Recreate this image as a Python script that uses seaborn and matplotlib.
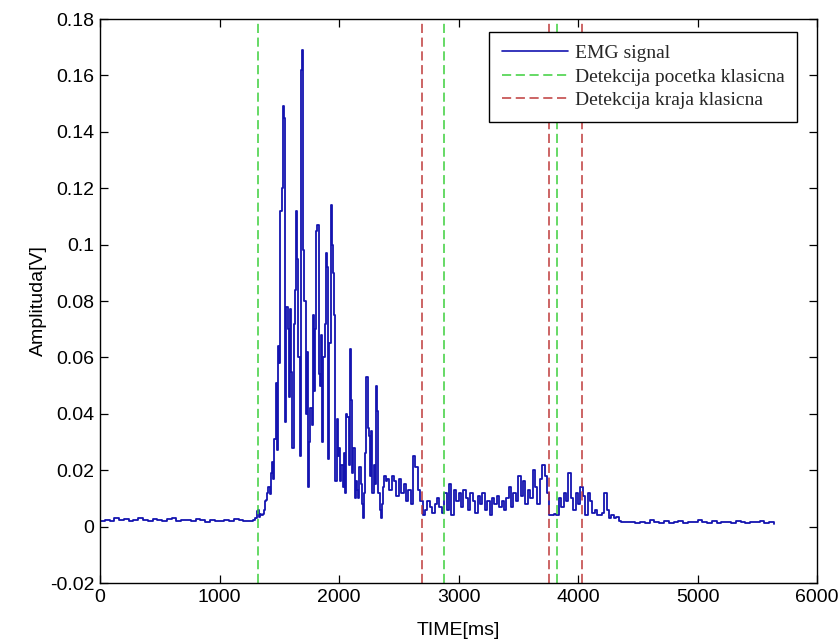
import numpy as np
import pandas as pd
import matplotlib
matplotlib.use("Agg")
import matplotlib.pyplot as plt
import seaborn as sns
from matplotlib.lines import Line2D
from matplotlib.ticker import FuncFormatter

# ---------------- data ----------------
# baseline before activity (40 ms step)
base1_start, base1_step = 0, 40
base1_vals = [0.002, 0.0025, 0.002, 0.003, 0.0022, 0.0028, 0.002, 0.0025, 0.003, 0.0022,
              0.002, 0.0028, 0.0024, 0.002, 0.0026, 0.003, 0.0021, 0.0025, 0.0023, 0.002,
              0.0027, 0.0022, 0.0018, 0.0025, 0.0021, 0.0019, 0.0024, 0.002, 0.0026, 0.0022,
              0.002, 0.0019, 0.0024]

# main burst (10 ms step)
burst_start, burst_step = 1300, 10
burst_vals = [0.003, 0.0055, 0.006, 0.0035, 0.0045, 0.004, 0.0045, 0.006, 0.009, 0.0095,
              0.012, 0.014, 0.0115, 0.019, 0.023, 0.017, 0.031, 0.051, 0.027, 0.064,
              0.058, 0.112, 0.120, 0.149, 0.145, 0.037, 0.078, 0.070, 0.046, 0.077,
              0.055, 0.028, 0.072, 0.084, 0.112, 0.095, 0.060, 0.025, 0.162, 0.169,
              0.098, 0.080, 0.040, 0.062, 0.014, 0.030, 0.042, 0.036, 0.075, 0.048,
              0.070, 0.105, 0.107, 0.054, 0.050, 0.068, 0.030, 0.060, 0.072, 0.097,
              0.092, 0.024, 0.065, 0.114, 0.100, 0.090, 0.075, 0.016, 0.038, 0.025,
              0.028, 0.016, 0.022, 0.014, 0.026, 0.012, 0.040, 0.039, 0.022, 0.063,
              0.045, 0.019, 0.028, 0.010, 0.016, 0.013, 0.010, 0.021, 0.015, 0.008,
              0.003, 0.012, 0.026, 0.053, 0.035, 0.032, 0.018, 0.034, 0.012, 0.022,
              0.015, 0.050, 0.041, 0.012, 0.006, 0.003, 0.008, 0.014, 0.018, 0.016]

# tail activity (20 ms step)
tail_start, tail_step = 2400, 20
tail_vals = [0.017, 0.013, 0.018, 0.016, 0.011, 0.017, 0.012, 0.015, 0.009, 0.013,
             0.008, 0.025, 0.021, 0.013, 0.009, 0.004, 0.006, 0.009, 0.007, 0.005,
             0.008, 0.010, 0.007, 0.005, 0.012, 0.006, 0.015, 0.004, 0.013, 0.009,
             0.012, 0.007, 0.013, 0.010, 0.006, 0.012, 0.009, 0.005, 0.011, 0.008,
             0.012, 0.006, 0.009, 0.004, 0.010, 0.008, 0.011, 0.007, 0.009, 0.006,
             0.010, 0.014, 0.007, 0.012, 0.009, 0.018, 0.011, 0.016, 0.008, 0.013,
             0.010, 0.020, 0.014, 0.008, 0.017, 0.022, 0.018, 0.012, 0.004, 0.004,
             0.0045, 0.004, 0.010, 0.007, 0.012, 0.009, 0.019, 0.010, 0.006, 0.012,
             0.008, 0.014, 0.011, 0.004, 0.012, 0.009, 0.005, 0.006, 0.004, 0.004,
             0.005, 0.012, 0.006, 0.003, 0.004, 0.003, 0.0035, 0.002, 0.0015, 0.0018]

# baseline after activity (40 ms step)
base2_start, base2_step = 4400, 40
base2_vals = [0.0015, 0.0018, 0.0012, 0.0016, 0.0014, 0.0022, 0.0015, 0.0013, 0.002, 0.0014,
              0.0017, 0.0021, 0.0013, 0.0018, 0.0015, 0.0022, 0.0016, 0.0014, 0.0019, 0.0012,
              0.0015, 0.0018, 0.0014, 0.002, 0.0016, 0.0013, 0.0017, 0.0015, 0.0019, 0.0014,
              0.0016, 0.0010]

onset_times = [1325, 2875, 3828]    # Detekcija pocetka klasicna
offset_times = [2693, 3757, 4037]   # Detekcija kraja klasicna

x_ticks = [0, 1000, 2000, 3000, 4000, 5000, 6000]
y_ticks = [-0.02, 0, 0.02, 0.04, 0.06, 0.08, 0.1, 0.12, 0.14, 0.16, 0.18]

legend_labels = ["EMG signal", "Detekcija pocetka klasicna", "Detekcija kraja klasicna"]

# ---------------- build table ----------------
def seg(start, step, vals):
    t = start + step * np.arange(len(vals))
    return pd.DataFrame({"time": t, "amp": vals})

df = pd.concat([seg(base1_start, base1_step, base1_vals),
                seg(burst_start, burst_step, burst_vals),
                seg(tail_start, tail_step, tail_vals),
                seg(base2_start, base2_step, base2_vals)], ignore_index=True)

# ---------------- plot ----------------
sns.set_theme(style="white")
plt.rcParams["axes.unicode_minus"] = False
plt.rcParams["font.family"] = ["Liberation Sans", "DejaVu Sans"]

fig = plt.figure(figsize=(8.38, 6.43), dpi=100)
# axes frame: x 100..817 px, y 19..583 px
ax = fig.add_axes([100 / 838, (643 - 583) / 643, 717 / 838, 564 / 643])

emg_color = "#1414b0"
green = "#3ccf3c"
red = "#bf3a3a"
dash = (0, (6, 3))

sns.lineplot(data=df, x="time", y="amp", ax=ax, color=emg_color, linewidth=1.3,
             drawstyle="steps-post", estimator=None, sort=False, legend=False)

for t in onset_times:
    ax.axvline(t, color=green, linewidth=1.1, linestyle=dash)
for t in offset_times:
    ax.axvline(t, color=red, linewidth=1.1, linestyle=dash)

ax.set_xlim(0, 6000)
ax.set_ylim(-0.02, 0.18)
ax.set_xticks(x_ticks)
ax.set_yticks(y_ticks)
ax.yaxis.set_major_formatter(FuncFormatter(lambda v, p: ("%g" % round(v, 4))))
ax.xaxis.set_major_formatter(FuncFormatter(lambda v, p: "%d" % v))

ax.tick_params(direction="in", length=6, width=0.9, colors="black",
               top=True, right=True, bottom=True, left=True, labelsize=14, pad=4)
for sp in ax.spines.values():
    sp.set_color("black")
    sp.set_linewidth(1.0)
    sp.set_visible(True)

ax.set_xlabel("TIME[ms]", fontsize=14, color="black", labelpad=12)
ax.set_ylabel("Amplituda[V]", fontsize=14, color="black", labelpad=2)

handles = [Line2D([0], [0], color=emg_color, linewidth=1.2),
           Line2D([0], [0], color=green, linewidth=1.1, linestyle=dash),
           Line2D([0], [0], color=red, linewidth=1.1, linestyle=dash)]
leg = ax.legend(handles, legend_labels, loc="upper right",
                bbox_to_anchor=(1 - 20 / 717, 1 - 13 / 564), borderaxespad=0,
                prop={"family": ["Liberation Serif", "DejaVu Serif"], "size": 14},
                handlelength=3.4, handletextpad=0.35, labelspacing=0.3,
                borderpad=0.65, fancybox=False, frameon=True, framealpha=1)
leg.get_frame().set_edgecolor("black")
leg.get_frame().set_linewidth(1.0)

fig.savefig("out.png", dpi=100, facecolor="white")
